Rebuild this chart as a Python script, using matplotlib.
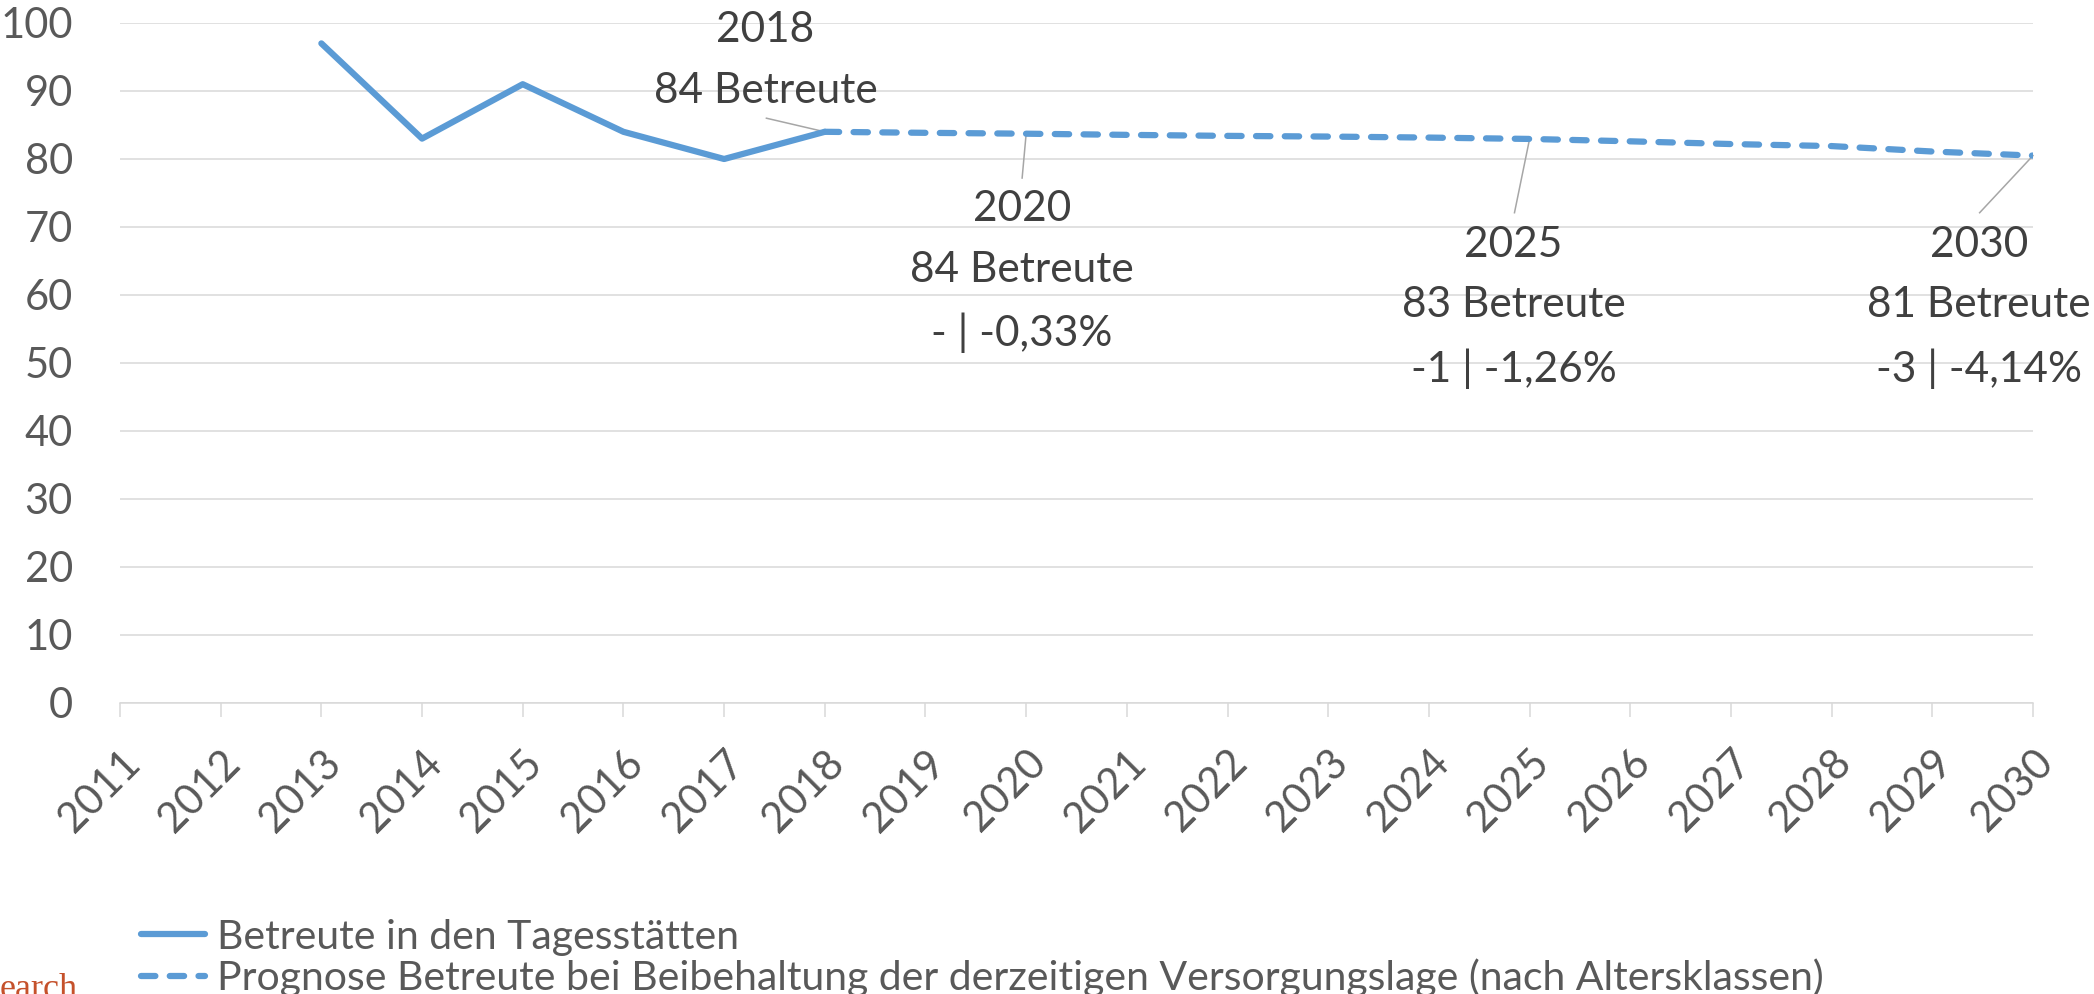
import matplotlib
matplotlib.use("Agg")
import matplotlib.pyplot as plt
import matplotlib.transforms as mtransforms

plt.rcParams['font.family'] = ['Lato', 'DejaVu Sans']

# Daten
jahre_ist = [2013, 2014, 2015, 2016, 2017, 2018]
betreute_ist = [97, 83, 91, 84, 80, 84]

jahre_prog = [2018, 2019, 2020, 2021, 2022, 2023, 2024, 2025, 2026, 2027, 2028, 2029, 2030]
betreute_prog = [84, 83.85, 83.72, 83.55, 83.4, 83.3, 83.15, 82.95, 82.6, 82.2, 81.9, 81.1, 80.5]

alle_jahre = list(range(2011, 2031))

label_ist = "Betreute in den Tagesstätten"
label_prog = "Prognose Betreute bei Beibehaltung der derzeitigen Versorgungslage (nach Altersklassen)"

# Beschriftungen: (Jahr, Wert, Text)
beschriftungen = [
    (2018, 84, "2018\n84 Betreute"),
    (2020, 83.72, "2020\n84 Betreute\n- | -0,33%"),
    (2025, 82.95, "2025\n83 Betreute\n-1 | -1,26%"),
    (2030, 80.5, "2030\n81 Betreute\n-3 | -4,14%"),
]
# Textposition und Anfang der Verbindungslinie (in Datenkoordinaten)
text_pos = [(2017.41, 94.5), (2019.96, 63.4), (2024.84, 58.2), (2029.46, 58.2)]
linie_start = [(2017.42, 86.0), (2019.96, 77.2), (2024.85, 72.1), (2029.47, 72.1)]

blau = '#5B9BD5'
grau_gitter = '#D9D9D9'

fig = plt.figure(figsize=(20.94, 9.94), dpi=100)
ax = fig.add_axes([120/2094, 1-703/994, (2033-120)/2094, (703-23)/994])

ax.plot(jahre_ist, betreute_ist, color=blau, lw=4.5, solid_joinstyle='round',
        solid_capstyle='round', label=label_ist, zorder=3)
ax.plot(jahre_prog, betreute_prog, color=blau, lw=4.5, dashes=(2.3, 2.3),
        dash_capstyle='round', label=label_prog, zorder=3)

ax.set_xlim(2011, 2030)
ax.set_ylim(0, 100)
ax.set_yticks(range(0, 101, 10))
ax.set_xticks(alle_jahre)
ax.set_xticklabels([str(j) for j in alle_jahre], rotation=45, ha='right',
                   rotation_mode='anchor')
# Jahreszahlen etwas nach links schieben
verschiebung = mtransforms.ScaledTranslation(-5/100, 0, fig.dpi_scale_trans)
for lab in ax.get_xticklabels():
    lab.set_transform(lab.get_transform() + verschiebung)
ax.grid(axis='y', color=grau_gitter, lw=1.1)
ax.set_axisbelow(True)
for s in ['top', 'right', 'left']:
    ax.spines[s].set_visible(False)
ax.spines['bottom'].set_color(grau_gitter)
ax.spines['bottom'].set_linewidth(1.1)
ax.tick_params(axis='y', length=0, pad=34, labelsize=30, labelcolor='#595959')
ax.tick_params(axis='x', length=10, width=1.1, color=grau_gitter, pad=19,
               labelsize=30, labelcolor='#595959')

# Datenbeschriftungen mit Verbindungslinien
for (jahr, wert, txt), (tx, ty), (lx, ly) in zip(beschriftungen, text_pos, linie_start):
    ax.plot([lx, jahr], [ly, wert], color='#A6A6A6', lw=1.1, zorder=2, clip_on=False)
    ax.text(tx, ty, txt, ha='center', va='center', fontsize=30.5, color='#404040',
            linespacing=1.72, clip_on=False)

fig.legend(loc='center left', bbox_to_anchor=(141/2094, 1-958/994), frameon=False,
           fontsize=29.5, labelcolor='#595959', handlelength=1.55, handletextpad=0.3,
           labelspacing=0.08, borderpad=0, borderaxespad=0)

fig.text(0.0, -0.004, "earch", fontfamily='Liberation Serif', fontsize=26,
         color='#C5512B', va='baseline', ha='left')

fig.savefig("out.png", dpi=100)
